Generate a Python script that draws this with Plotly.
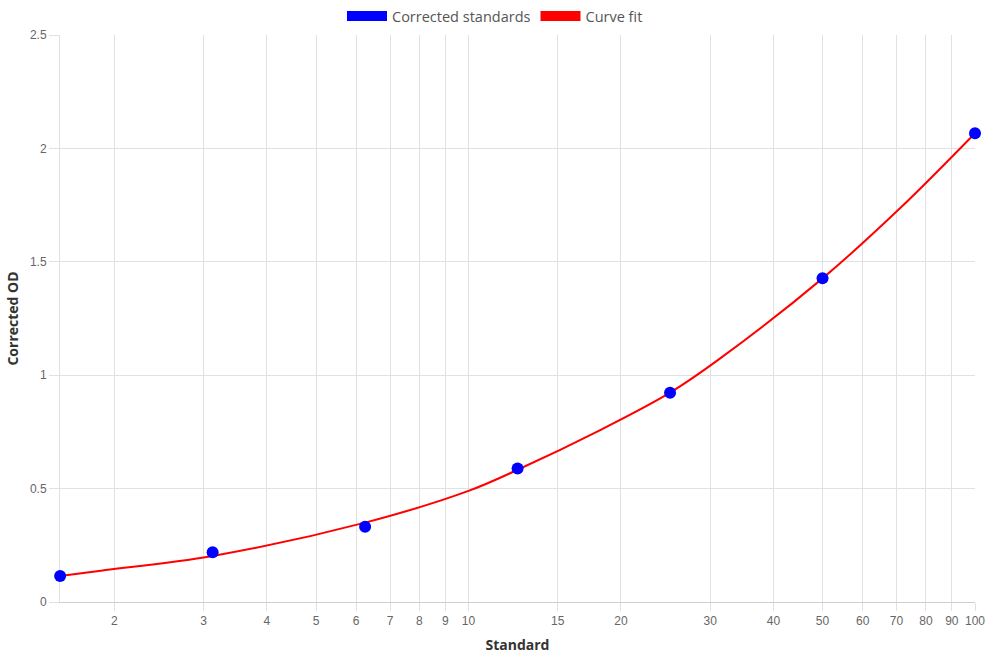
import numpy as np
import plotly.graph_objects as go

# Data
standards = [1.5625, 3.125, 6.25, 12.5, 25, 50, 100]
corrected_od = [0.115, 0.219, 0.332, 0.589, 0.923, 1.427, 2.067]

fit_x = [1.5625, 1.88, 3.125, 6.25, 10, 12.5, 18.2, 25, 31.4, 50, 71.1, 100]
fit_y = [0.115, 0.138, 0.203, 0.350, 0.490, 0.583, 0.758, 0.923, 1.074, 1.427, 1.736, 2.067]

x_tickvals = [2, 3, 4, 5, 6, 7, 8, 9, 10, 15, 20, 30, 40, 50, 60, 70, 80, 90, 100]
y_tickvals = [0, 0.5, 1, 1.5, 2, 2.5]

GRID = "#e1e1e1"
TICKFONT = dict(family="Liberation Sans, Arial, sans-serif", size=12, color="#666666")
TITLEFONT = dict(family="Open Sans, sans-serif", size=14, color="#333333")

fig = go.Figure()

fig.add_trace(go.Scatter(
    x=fit_x, y=fit_y, mode="lines", name="Curve fit",
    line=dict(color="#ff0000", width=2, shape="spline", smoothing=1.0),
    showlegend=False, hoverinfo="skip", cliponaxis=False,
))
fig.add_trace(go.Scatter(
    x=standards, y=corrected_od, mode="markers", name="Corrected standards",
    marker=dict(color="#0000ff", size=12, line=dict(width=0)),
    showlegend=False, cliponaxis=False,
))
# Legend entries (box style)
fig.add_trace(go.Scatter(
    x=[None], y=[None], mode="lines", name="Corrected standards",
    line=dict(color="#0000ff", width=14),
))
fig.add_trace(go.Scatter(
    x=[None], y=[None], mode="lines", name="Curve fit",
    line=dict(color="#ff0000", width=14),
))

fig.update_layout(
    width=990, height=660,
    margin=dict(l=60, r=15, t=35, b=58, autoexpand=False),
    paper_bgcolor="white", plot_bgcolor="white",
    showlegend=True,
    legend=dict(
        orientation="h", x=0.5, xref="container", xanchor="center",
        y=1 - 16 / 660, yref="container", yanchor="middle",
        font=dict(family="Open Sans, sans-serif", size=14.5, color="#555555"),
        itemwidth=40, bgcolor="rgba(0,0,0,0)",
    ),
    xaxis=dict(
        type="log", range=[np.log10(1.5625) - 0.0003, 2],
        tickvals=x_tickvals, ticktext=[str(v) for v in x_tickvals],
        tickfont=TICKFONT, ticks="outside", ticklen=8, tickcolor=GRID,
        showgrid=True, gridcolor=GRID, gridwidth=1,
        showline=True, linecolor="#cfcfcf", linewidth=1,
        title=dict(text="<b>Standard</b>", font=TITLEFONT, standoff=12),
        zeroline=False, automargin=False, layer="below traces",
    ),
    yaxis=dict(
        range=[0, 2.5], tickvals=y_tickvals,
        ticktext=["0", "0.5", "1", "1.5", "2", "2.5"],
        tickfont=TICKFONT, ticks="outside", ticklen=10, tickcolor=GRID,
        showgrid=True, gridcolor=GRID, gridwidth=1,
        showline=True, linecolor=GRID, linewidth=1,
        title=dict(text="<b>Corrected OD</b>", font=TITLEFONT, standoff=8),
        zeroline=False, automargin=False, layer="below traces",
    ),
)

fig.write_html("out.html")
